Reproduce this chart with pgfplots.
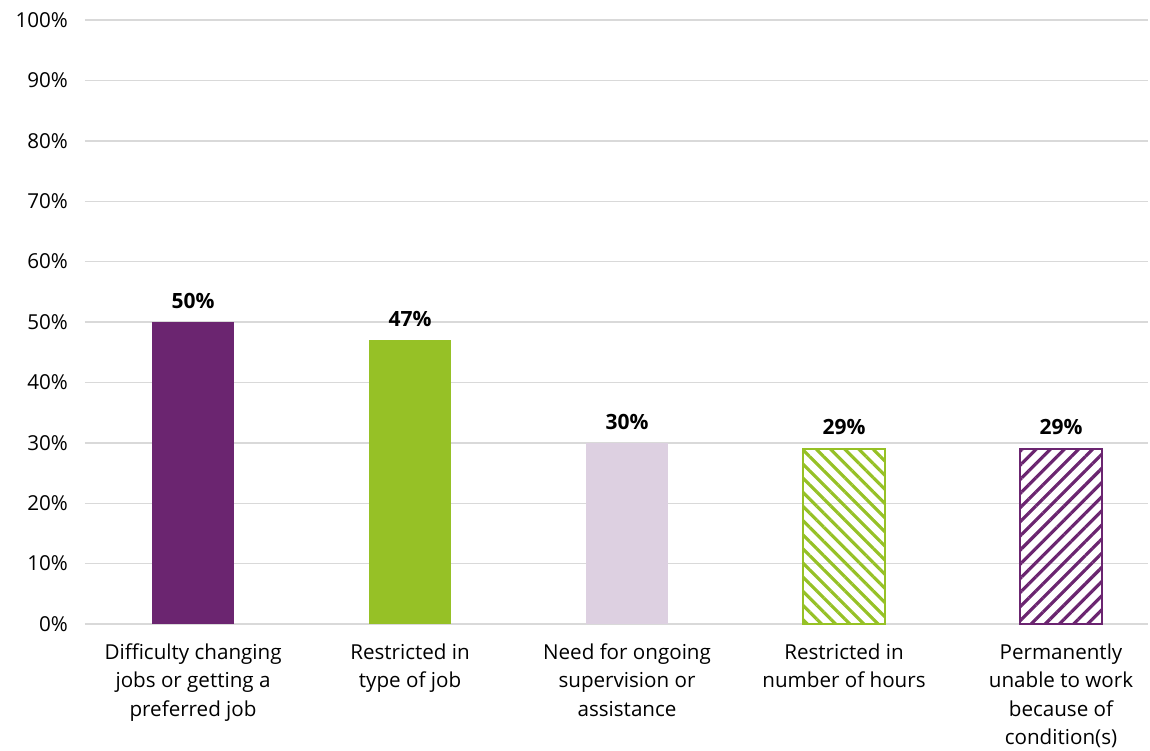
\documentclass[border=0pt]{standalone}
\usepackage{fontspec}
\setmainfont{Open Sans}
\usepackage{pgfplots}
\pgfplotsset{compat=1.18}
\usetikzlibrary{patterns.meta}
\definecolor{ipurple}{HTML}{6B2570}
\definecolor{igreen}{HTML}{96C126}
\definecolor{ilav}{HTML}{DDD0E1}
\definecolor{igrid}{HTML}{D9D9D9}
\begin{document}
\begin{tikzpicture}
\begin{axis}[
  scale only axis, width=531.5pt, height=302pt,
  xmin=-0.498, xmax=4.401, ymin=0, ymax=100,
  ytick={0,10,...,100},
  yticklabel={\pgfmathprintnumber{\tick}\%},
  /pgf/number format/assume math mode=true,
  ymajorgrids, grid style={igrid, line width=0.7pt},
  axis line style={draw=none},
  tick style={draw=none},
  xtick={0,1,2,3,4},
  xticklabels={Difficulty changing\\jobs or getting a\\preferred job,
    Restricted in\\type of job,
    Need for ongoing\\supervision or\\assistance,
    Restricted in\\number of hours,
    Permanently\\unable to work\\because of\\condition(s)},
  ticklabel style={font=\fontsize{10.3}{14.2}\selectfont, text=black},
  yticklabel style={xshift=-5pt},
  xticklabel style={align=center, yshift=-2pt},
  ybar, bar width=41pt, bar shift=0pt,
  nodes near coords={\pgfmathprintnumber{\pgfplotspointmeta}\%},
  nodes near coords style={font=\fontsize{10.5}{12}\bfseries, text=black, yshift=3pt},
]
\addplot[fill=ipurple, draw=none] coordinates {(0,50)};
\addplot[fill=igreen, draw=none] coordinates {(1,47)};
\addplot[fill=ilav, draw=none] coordinates {(2,30)};
\addplot[draw=igreen, line width=1pt, fill=white, pattern={Lines[angle=-45,distance=5pt,line width=1.6pt]}, pattern color=igreen] coordinates {(3,29)};
\addplot[draw=ipurple, line width=1pt, fill=white, pattern={Lines[angle=45,distance=5pt,line width=1.6pt]}, pattern color=ipurple] coordinates {(4,29)};
\end{axis}
\pgfresetboundingbox
\path[use as bounding box] (-42.5pt,-63pt) rectangle (532.5pt,312pt);
\end{tikzpicture}
\end{document}
